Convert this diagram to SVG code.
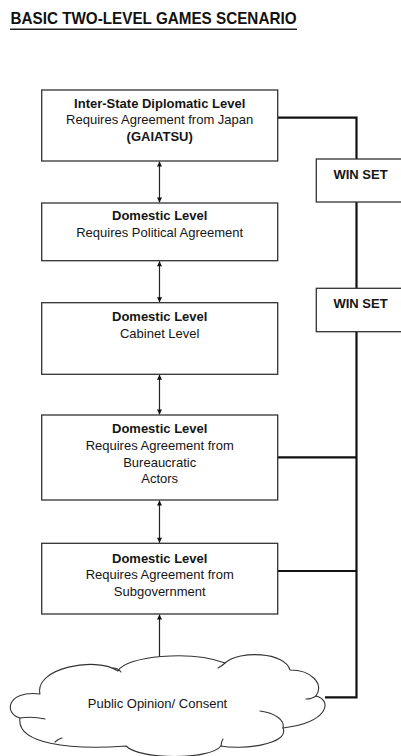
<svg xmlns="http://www.w3.org/2000/svg" width="401" height="756" viewBox="0 0 401 756">
  <style>
    .box { fill: #ffffff; stroke: #333333; stroke-width: 1.3; }
    .t { font-family: "Liberation Sans", Arial, sans-serif; font-size: 13px; fill: #151515; text-anchor: middle; }
    .b { font-weight: bold; }
    .link { fill: none; stroke: #111111; stroke-width: 2.2; }
    .arrow { fill: none; stroke: #222222; stroke-width: 1.2; marker-start: url(#head); marker-end: url(#head); }
    .cloud { fill: #ffffff; stroke: #333333; stroke-width: 1.1; stroke-linejoin: round; }
    .tick { fill: none; stroke: #333333; stroke-width: 1.1; stroke-linecap: round; }
  </style>
  <defs>
    <marker id="head" viewBox="0 0 10 10" refX="10" refY="5" markerWidth="6" markerHeight="5" markerUnits="userSpaceOnUse" orient="auto-start-reverse">
      <path d="M0,0 L10,5 L0,10 Z" fill="#111111"/>
    </marker>
  </defs>

  <rect width="401" height="756" fill="#ffffff"/>

  <!-- heading -->
  <g id="title">
    <text x="10.5" y="24" font-family="'Liberation Sans', Arial, sans-serif" font-size="17" font-weight="bold" fill="#111111" textLength="286" lengthAdjust="spacingAndGlyphs">BASIC TWO-LEVEL GAMES SCENARIO</text>
    <line x1="10" y1="29.3" x2="297" y2="29.3" stroke="#222222" stroke-width="1.4"/>
  </g>

  <!-- connectors -->
  <g id="connectors">
    <path class="link" d="M277.7,117.7 H356.5 V159"/>
    <path class="link" d="M356.5,202 V288.3"/>
    <path class="link" d="M356.5,331.7 V697.3 H325"/>
    <path class="link" d="M277.7,457.3 H356.5"/>
    <path class="link" d="M277.7,571 H356.5"/>
    <line class="arrow" x1="159.5" y1="161.5" x2="159.5" y2="202.5"/>
    <line class="arrow" x1="159.5" y1="261.2" x2="159.5" y2="302.2"/>
    <line class="arrow" x1="159.5" y1="374.8" x2="159.5" y2="414.5"/>
    <line class="arrow" x1="159.5" y1="500.5" x2="159.5" y2="542.8"/>
    <line class="arrow" x1="159.5" y1="614.5" x2="159.5" y2="668"/>
  </g>

  <g id="interstate">
    <rect class="box" x="41.7" y="90" width="236" height="71"/>
    <text class="t b" x="159.7" y="107.5">Inter-State Diplomatic Level</text>
    <text class="t" x="159.7" y="124">Requires Agreement from Japan</text>
    <text class="t b" x="159.7" y="140.5">(GAIATSU)</text>
  </g>

  <g id="domestic-political">
    <rect class="box" x="41.7" y="203" width="236" height="57.7"/>
    <text class="t b" x="159.7" y="220">Domestic Level</text>
    <text class="t" x="159.7" y="237">Requires Political Agreement</text>
  </g>

  <g id="domestic-cabinet">
    <rect class="box" x="41.7" y="302.7" width="236" height="71.6"/>
    <text class="t b" x="159.7" y="320.5">Domestic Level</text>
    <text class="t" x="159.7" y="337.5">Cabinet Level</text>
  </g>

  <g id="domestic-bureaucratic">
    <rect class="box" x="41.7" y="415" width="236" height="85"/>
    <text class="t b" x="159.7" y="433.3">Domestic Level</text>
    <text class="t" x="159.7" y="450">Requires Agreement from</text>
    <text class="t" x="159.7" y="466.7">Bureaucratic</text>
    <text class="t" x="159.7" y="483.3">Actors</text>
  </g>

  <g id="domestic-subgovernment">
    <rect class="box" x="41.7" y="543.3" width="236" height="70.7"/>
    <text class="t b" x="159.7" y="562.7">Domestic Level</text>
    <text class="t" x="159.7" y="579.3">Requires Agreement from</text>
    <text class="t" x="159.7" y="596">Subgovernment</text>
  </g>

  <g id="winset-1">
    <rect class="box" x="316.3" y="159" width="100" height="43"/>
    <text class="t b" x="360.5" y="179.3">WIN SET</text>
  </g>

  <g id="winset-2">
    <rect class="box" x="316.3" y="288.3" width="100" height="43.4"/>
    <text class="t b" x="360.5" y="308.4">WIN SET</text>
  </g>

  <g id="public-opinion">
    <path class="cloud" d="M20,718 C4,714 6,690 40,694 C34,668 96,656 118,671 C126,656 190,650 225,663 C240,650 285,652 290,670 C312,670 324,684 316,696 C332,700 330,722 283,728 C290,745 240,750 221,746 C210,760 140,760 126,746 C70,750 16,744 20,718 Z"/>
    <path class="tick" d="M20,718 Q32,716 45,719"/>
    <path class="tick" d="M55,742 Q58,739 62,738"/>
    <path class="tick" d="M113,668 Q118,668 121,672"/>
    <path class="tick" d="M225,663 Q222,666 218,668"/>
    <path class="tick" d="M316,696 Q312,699 306,699"/>
    <path class="tick" d="M260,711 C275,713 285,720 283,728"/>
    <path class="tick" d="M221,746 Q221,742 223,739"/>
    <text class="t" x="157.5" y="707.7">Public Opinion/ Consent</text>
  </g>
</svg>
